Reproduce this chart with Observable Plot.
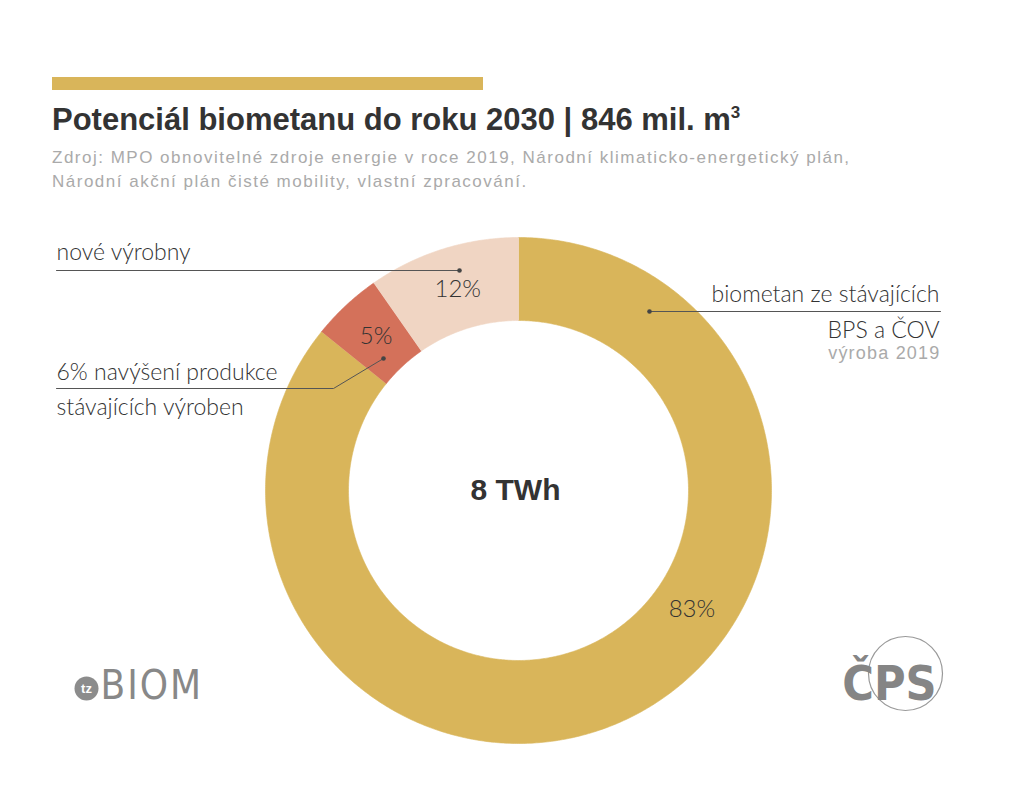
<!DOCTYPE html>
<html><head><meta charset="utf-8">
<script src="https://cdn.jsdelivr.net/npm/d3@7"></script>
<script src="https://cdn.jsdelivr.net/npm/@observablehq/plot@0.6"></script>
<style>
html,body{margin:0;padding:0;background:#fff}
body{width:1024px;height:810px;overflow:hidden;font-family:"Liberation Sans",Arial,sans-serif}
#head{position:relative;height:215px}
#bar{position:absolute;left:52px;top:77px;width:431px;height:13px;background:#d9b55a}
#title{position:absolute;left:52px;top:102px;font-weight:bold;font-size:31px;color:#333;white-space:nowrap;letter-spacing:0px}
#title sup{font-size:17px;position:relative;top:-1px}
#sub{position:absolute;left:52px;top:146px;font-size:17px;color:#aaa;line-height:24px;white-space:nowrap;letter-spacing:1.5px}
</style></head><body>
<div id="head">
  <div id="bar"></div>
  <div id="title"></div>
  <div id="sub"></div>
</div>
<div id="chart"></div>
<script>
// ---- data ----
const titleText = "Potenciál biometanu do roku 2030 | 846 mil. m";
const titleSup = "3";
const sourceLines = [
  "Zdroj: MPO obnovitelné zdroje energie v roce 2019, Národní klimaticko-energetický plán,",
  "Národní akční plán čisté mobility, vlastní zpracování."
];
const categories = ["biometan ze stávajících BPS a ČOV", "6% navýšení produkce stávajících výroben", "nové výrobny"];
const categoryLines = [["biometan ze stávajících", "BPS a ČOV"], ["6% navýšení produkce", "stávajících výroben"], ["nové výrobny"]];
const sliceShare = [85.8, 4.5, 9.7];          // slice sizes as drawn (%)
const shareLabels = ["83%", "5%", "12%"];      // printed labels
const centerLabel = "8 TWh";
const noteText = "výroba 2019";
const logoLeft = ["tz", "BIOM"];
const logoRight = "ČPS";

// ---- styles / layout ----
const colors = ["#d9b55a", "#d4715a", "#f0d5c3"];
const R = 253, r0 = 170;
const labelAngles = [124.3, 317.3, 343.2];
const labelRadius = 210;
const annoFont = "Lato, 'Open Sans', sans-serif";

document.getElementById("title").innerHTML = titleText + "<sup>" + titleSup + "</sup>";
document.getElementById("sub").innerHTML = sourceLines.join("<br>");

// slice polygons
const rad = Math.PI / 180;
const pt = (ang, rr) => ({x: rr * Math.sin(ang * rad), y: rr * Math.cos(ang * rad)});
const slicePts = [];
let cum = 0;
sliceShare.forEach((v, i) => {
  const a0 = cum / 100 * 360, a1 = (cum + v) / 100 * 360;
  cum += v;
  const n = Math.max(2, Math.ceil((a1 - a0) / 0.5));
  for (let k = 0; k <= n; k++) slicePts.push({cat: categories[i], ...pt(a0 + (a1 - a0) * k / n, R)});
  for (let k = n; k >= 0; k--) slicePts.push({cat: categories[i], ...pt(a0 + (a1 - a0) * k / n, r0)});
});
const pctLabels = shareLabels.map((t, i) => ({t, ...pt(labelAngles[i], labelRadius)}));

// annotation layout (offsets from donut centre, y up)
const leaders = [
  {id: 2, pts: [[-462, 220], [-59, 220]]},
  {id: 1, pts: [[-462, 102], [-185, 102], [-135, 132]]},
  {id: 0, pts: [[422, 179], [131, 179]]}
];
const leaderRows = leaders.flatMap(l => l.pts.map(([x, y]) => ({id: l.id, x, y})));
const leaderDots = leaders.map(l => ({x: l.pts[l.pts.length - 1][0], y: l.pts[l.pts.length - 1][1]}));
const textRows = [
  {t: categoryLines[2][0], x: -462, y: 231, a: "start"},
  {t: categoryLines[1][0], x: -462, y: 111, a: "start"},
  {t: categoryLines[1][1], x: -462, y: 76, a: "start"},
  {t: categoryLines[0][0], x: 421, y: 189, a: "end"},
  {t: categoryLines[0][1], x: 421, y: 153, a: "end"}
];

const chart = Plot.plot({
  width: 1024, height: 595,
  margin: 0,
  x: {domain: [-518, 506], axis: null},
  y: {domain: [-320, 275], axis: null},
  color: {domain: categories, range: colors},
  style: {background: "transparent", overflow: "visible"},
  marks: [
    Plot.line(slicePts, {x: "x", y: "y", z: "cat", fill: "cat", stroke: "cat", strokeWidth: 0.6, curve: "linear"}),
    Plot.line(leaderRows, {x: "x", y: "y", z: "id", stroke: "#555", strokeWidth: 1}),
    Plot.dot(leaderDots, {x: "x", y: "y", r: 2.3, fill: "#444"}),
    Plot.text(textRows.filter(d => d.a === "start"), {x: "x", y: "y", text: "t", textAnchor: "start", lineAnchor: "bottom", fontSize: 23, fontFamily: annoFont, fontWeight: 300, fill: "#333"}),
    Plot.text(textRows.filter(d => d.a === "end"), {x: "x", y: "y", text: "t", textAnchor: "end", lineAnchor: "bottom", fontSize: 23, fontFamily: annoFont, fontWeight: 300, fill: "#333"}),
    Plot.text([noteText], {x: 422, y: 132, text: d => d, textAnchor: "end", lineAnchor: "bottom", fontSize: 18, fontFamily: "'Liberation Sans', Arial, sans-serif", fill: "#aaa"}),
    Plot.text(pctLabels, {x: "x", y: "y", text: "t", fontSize: 24, fontFamily: annoFont, fontWeight: 300, fill: "#333"}),
    Plot.text([centerLabel], {x: -3, y: 0, text: d => d, fontSize: 30, fontWeight: "bold", fontFamily: "'Liberation Sans', Arial, sans-serif", fill: "#333"}),
    // logos
    Plot.dot([logoLeft[0]], {x: -432, y: -198, r: 12, fill: "#8c8c8c"}),
    Plot.text([logoLeft[0]], {x: -432, y: -198, text: d => d, fontSize: 13, fontWeight: "bold", fill: "#fff", fontFamily: "'Liberation Sans', Arial, sans-serif"}),
    Plot.text([logoLeft[1]], {x: -418, y: -208, text: d => d, textAnchor: "start", lineAnchor: "bottom", fontSize: 40, fontFamily: "'Liberation Sans Narrow', 'DejaVu Sans Condensed', sans-serif", fill: "#888"}),
    Plot.dot([logoRight], {x: 387, y: -183, r: 37, fill: "none", stroke: "#999", strokeWidth: 1.2}),
    Plot.text([logoRight], {x: 371, y: -209, text: d => d, textAnchor: "middle", lineAnchor: "bottom", fontSize: 48, fontWeight: "bold", fontFamily: "'Liberation Sans Narrow', 'DejaVu Sans Condensed', sans-serif", fill: "#858585"})
  ]
});
d3.select(chart).selectAll("text").filter(function() { return this.textContent === noteText; }).style("letter-spacing", "1.2px");
d3.select(chart).selectAll("text").filter(function() { return this.textContent === logoLeft[1]; }).style("letter-spacing", "2px");
document.getElementById("chart").appendChild(chart);
</script>
</body></html>
